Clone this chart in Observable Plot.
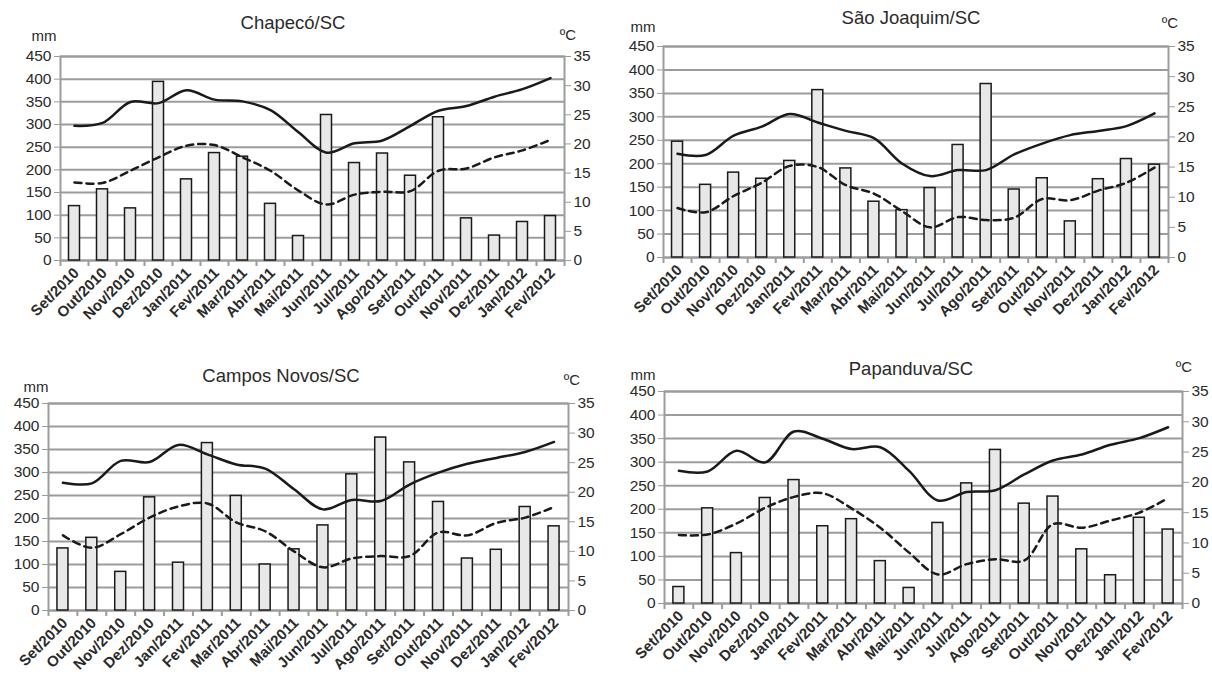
<!DOCTYPE html>
<html>
<head>
<meta charset="utf-8">
<script src="https://cdn.jsdelivr.net/npm/d3@7"></script>
<script src="https://cdn.jsdelivr.net/npm/@observablehq/plot@0.6"></script>
<style>
  html, body { margin: 0; padding: 0; background: #fff; }
  #root { position: relative; width: 1212px; height: 674px; background: #fff; font-family: "Liberation Sans", Arial, sans-serif; color: #2a2a2a; }
  .panel { position: absolute; width: 606px; height: 337px; }
  .lbl { position: absolute; transform: translate(-50%, -50%); white-space: nowrap; line-height: 1; }
  g[aria-label="x-axis tick label"] text { font-weight: bold; }
</style>
</head>
<body>
<div id="root"></div>
<script>
const months = ["Set/2010","Out/2010","Nov/2010","Dez/2010","Jan/2011","Fev/2011","Mar/2011","Abr/2011","Mai/2011","Jun/2011","Jul/2011","Ago/2011","Set/2011","Out/2011","Nov/2011","Dez/2011","Jan/2012","Fev/2012"];
const mmTicks = [0, 50, 100, 150, 200, 250, 300, 350, 400, 450];
const degTicks = [0, 5, 10, 15, 20, 25, 30, 35];

const chapecoPrecip = [120, 157, 115, 394, 179, 237, 229, 125, 54, 321, 215, 236, 187, 316, 93, 55, 85, 98];
const chapecoTmax   = [23.1, 23.6, 27.2, 27.0, 29.2, 27.6, 27.3, 25.8, 22.0, 18.5, 20.1, 20.6, 23.1, 25.7, 26.5, 28.1, 29.4, 31.3];
const chapecoTmin   = [13.4, 13.3, 15.4, 17.7, 19.7, 19.8, 17.7, 15.4, 12.0, 9.6, 11.3, 11.8, 11.9, 15.4, 15.8, 17.7, 18.9, 20.7];

const saoJoaquimPrecip = [247, 155, 181, 168, 206, 357, 190, 119, 101, 148, 240, 370, 145, 169, 77, 167, 210, 198];
const saoJoaquimTmax   = [17.2, 17.0, 20.2, 21.7, 23.8, 22.4, 21.0, 19.8, 15.6, 13.5, 14.5, 14.5, 17.1, 18.9, 20.3, 21.0, 21.8, 23.9];
const saoJoaquimTmin   = [8.2, 7.5, 10.2, 12.4, 15.2, 15.0, 12.0, 10.6, 7.7, 5.0, 6.7, 6.2, 6.6, 9.7, 9.5, 11.1, 12.4, 14.9];

const camposNovosPrecip = [135, 158, 84, 246, 104, 364, 249, 100, 133, 185, 296, 376, 322, 236, 113, 132, 225, 183];
const camposNovosTmax   = [21.6, 21.5, 25.3, 25.1, 28.0, 26.4, 24.7, 24.0, 20.5, 17.1, 18.7, 18.5, 21.3, 23.3, 24.8, 25.8, 26.8, 28.5];
const camposNovosTmin   = [12.7, 10.6, 12.9, 15.7, 17.6, 18.1, 14.9, 13.4, 10.0, 7.3, 8.8, 9.2, 9.2, 13.2, 12.7, 14.8, 15.7, 17.5];

const papanduvaPrecip = [35, 202, 107, 224, 262, 164, 179, 90, 33, 171, 255, 326, 212, 227, 115, 60, 182, 157];
const papanduvaTmax   = [21.9, 21.8, 25.2, 23.3, 28.4, 27.2, 25.5, 25.8, 21.9, 17.0, 18.4, 18.7, 21.3, 23.6, 24.6, 26.2, 27.3, 29.1];
const papanduvaTmin   = [11.3, 11.4, 13.2, 15.8, 17.6, 18.2, 15.7, 12.5, 8.4, 4.8, 6.5, 7.3, 7.1, 13.1, 12.5, 13.7, 15.0, 17.4];

const panels = [
  {title: "Chapecó/SC", precip: chapecoPrecip, tmax: chapecoTmax, tmin: chapecoTmin,
   ox: 0, oy: 0, ml: 60, mr: 42, mt: 56, mb: 77,
   titlePos: [293, 23], mmPos: [44, 35], cPos: [568, 34]},
  {title: "São Joaquim/SC", precip: saoJoaquimPrecip, tmax: saoJoaquimTmax, tmin: saoJoaquimTmin,
   ox: 606, oy: 0, ml: 57, mr: 44, mt: 46, mb: 80,
   titlePos: [911, 18], mmPos: [643, 26], cPos: [1170, 22]},
  {title: "Campos Novos/SC", precip: camposNovosPrecip, tmax: camposNovosTmax, tmin: camposNovosTmin,
   ox: 0, oy: 337, ml: 48, mr: 38, mt: 66, mb: 64,
   titlePos: [281, 376], mmPos: [36, 386], cPos: [572, 379]},
  {title: "Papanduva/SC", precip: papanduvaPrecip, tmax: papanduvaTmax, tmin: papanduvaTmin,
   ox: 606, oy: 337, ml: 58, mr: 30, mt: 54, mb: 71,
   titlePos: [911, 369], mmPos: [643, 374], cPos: [1184, 366]}
];

const gray = "#9c9c9c";
const ink = "#1a1a1a";
const k = 450 / 35;
const root = document.getElementById("root");

function addLabel(text, pos, size) {
  const s = document.createElement("div");
  s.className = "lbl";
  s.textContent = text;
  s.style.left = pos[0] + "px";
  s.style.top = pos[1] + "px";
  s.style.fontSize = size + "px";
  root.appendChild(s);
}

for (const cfg of panels) {
  const rows = months.map((m, i) => ({month: m, p: cfg.precip[i], tmax: cfg.tmax[i], tmin: cfg.tmin[i]}));
  const W = 606, H = 337;
  const step = (W - cfg.ml - cfg.mr) / months.length;
  const chart = Plot.plot({
    width: W, height: H,
    marginLeft: cfg.ml, marginRight: cfg.mr, marginTop: cfg.mt, marginBottom: cfg.mb,
    style: {fontFamily: "'Liberation Sans', Arial, sans-serif", fontSize: "15px", color: "#2a2a2a", background: "transparent", overflow: "visible"},
    x: {type: "band", domain: months, paddingInner: 0, paddingOuter: 0, round: false},
    y: {domain: [0, 450]},
    marks: [
      Plot.ruleY(mmTicks, {stroke: gray, strokeWidth: 2}),
      Plot.frame({stroke: gray, strokeWidth: 2}),
      Plot.axisY({ticks: mmTicks, tickSize: 6, tickPadding: 3, stroke: gray, label: null, fontSize: 15.5}),
      Plot.axisY({anchor: "right", ticks: degTicks.map(t => t * k), tickFormat: d => Math.round(d / k), tickSize: 6, tickPadding: 3, stroke: gray, label: null, fontSize: 15.5}),
      Plot.axisX({ticks: months, tickSize: 6, tickFormat: () => "", dx: -step / 2, stroke: gray, strokeWidth: 2, label: null}),
      Plot.axisX({ticks: [months[months.length - 1]], tickSize: 6, tickFormat: () => "", dx: step / 2, stroke: gray, strokeWidth: 2, label: null}),
      Plot.axisX({ticks: months, tickSize: 0, tickPadding: 10, tickRotate: -45, fontSize: 15, fontWeight: "bold", dx: 2, label: null}),
      Plot.barY(rows, {x: "month", y: "p", fill: "#e8e8e8", stroke: ink, strokeWidth: 1.5, insetLeft: (step - 11) / 2, insetRight: (step - 11) / 2}),
      Plot.line(rows, {x: "month", y: d => d.tmax * k, curve: "catmull-rom", stroke: ink, strokeWidth: 2.5}),
      Plot.line(rows, {x: "month", y: d => d.tmin * k, curve: "catmull-rom", stroke: ink, strokeWidth: 2.5, strokeDasharray: "7,5"})
    ]
  });
  const div = document.createElement("div");
  div.className = "panel";
  div.style.left = cfg.ox + "px";
  div.style.top = cfg.oy + "px";
  div.appendChild(chart);
  root.appendChild(div);
  addLabel(cfg.title, cfg.titlePos, 18.5);
  addLabel("mm", cfg.mmPos, 15);
  addLabel("ºC", cfg.cPos, 15);
}
</script>
</body>
</html>
